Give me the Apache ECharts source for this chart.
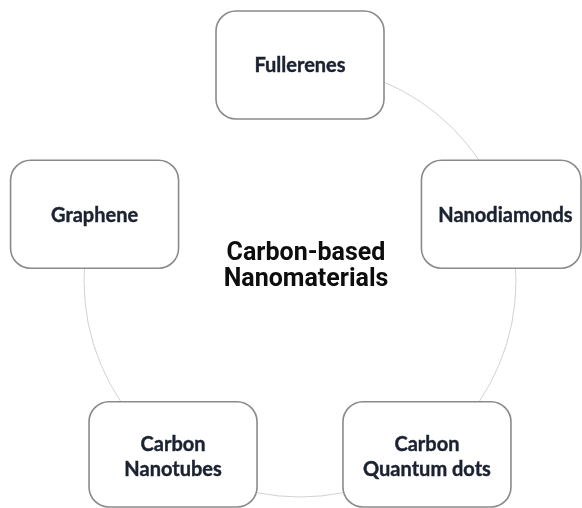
<!DOCTYPE html>
<html>
<head>
<meta charset="utf-8">
<script src="https://cdn.jsdelivr.net/npm/echarts@6/dist/echarts.min.js"></script>
<style>
  html, body { margin: 0; padding: 0; background: #fff; }
  #main { width: 582px; height: 508px; }
</style>
</head>
<body>
<div id="main"></div>
<script>
// 节点（按顺时针，从顶部开始）
var nodeNames = ['Fullerenes', 'Nanodiamonds', 'Carbon Quantum dots', 'Carbon Nanotubes', 'Graphene'];
var nodeLabels = ['Fullerenes', 'Nanodiamonds', 'Carbon\nQuantum dots', 'Carbon\nNanotubes', 'Graphene'];
var nodeRadius = [1, 1, 1, 1, 1];
var centerTitle = 'Carbon-based\nNanomaterials';

(function () {
  var myChart = echarts.init(document.getElementById('main'));

  var option = {
    backgroundColor: '#fff',
    animation: false,
    polar: {
      center: [300, 281],
      radius: 216
    },
    angleAxis: {
      type: 'category',
      data: nodeNames,
      startAngle: 90,
      clockwise: true,
      boundaryGap: false,
      axisLine: { lineStyle: { color: '#d2d2d2', width: 1 } },
      axisTick: { show: false },
      axisLabel: { show: false },
      splitLine: { show: false }
    },
    radiusAxis: {
      min: 0,
      max: 1,
      show: false
    },
    graphic: [{
      type: 'text',
      x: 306,
      y: 267,
      style: {
        text: centerTitle,
        font: 'bold 25px Roboto',
        fill: '#0d0d0d',
        align: 'center',
        verticalAlign: 'middle',
        lineHeight: 26
      }
    }],
    series: [{
      type: 'custom',
      coordinateSystem: 'polar',
      data: nodeNames.map(function (n, i) { return [nodeRadius[i], n]; }),
      renderItem: function (params, api) {
        var pt = api.coord([api.value(0), api.value(1)]);
        var w = 168, h = 108;
        // 超出画布的框贴边裁掉
        var x1 = pt[0] - w / 2, y1 = pt[1] - h / 2;
        var x2 = Math.min(pt[0] + w / 2, api.getWidth() - 1);
        var y2 = Math.min(pt[1] + h / 2, api.getHeight() - 1);
        return {
          type: 'group',
          children: [{
            type: 'rect',
            shape: { x: x1, y: y1, width: x2 - x1, height: y2 - y1, r: 20 },
            style: { fill: '#fff', stroke: '#8a8a8a', lineWidth: 1.6 }
          }, {
            type: 'text',
            style: {
              text: nodeLabels[params.dataIndex],
              x: pt[0],
              y: pt[1] + 1,
              align: 'center',
              verticalAlign: 'middle',
              font: 'bold 20px Lato',
              lineHeight: 25,
              fill: '#1a2130',
              stroke: '#1a2130',
              lineWidth: 0.4
            }
          }]
        };
      }
    }]
  };

  myChart.setOption(option);
  window.addEventListener('resize', function () {
    myChart.resize();
  });
})();
</script>
</body>
</html>
